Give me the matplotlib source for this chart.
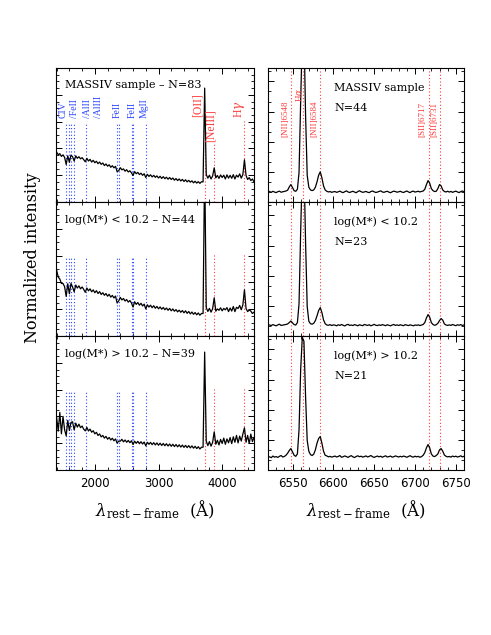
import numpy as np
import matplotlib
matplotlib.use('Agg')
import matplotlib.pyplot as plt
from matplotlib.ticker import MultipleLocator

plt.rcParams['font.family'] = 'DejaVu Sans'
plt.rcParams['mathtext.fontset'] = 'dejavuserif'

# ---- rest-frame UV/optical stacks (left), 25 A sampling
wave_uv = np.arange(1400, 4501, 25)

flux_uv_all = [
    0.372, 0.352, 0.361, 0.340, 0.352, 0.333, 0.280, 0.345, 0.296, 0.350,
    0.338, 0.306, 0.345, 0.326, 0.338, 0.322, 0.331, 0.316, 0.300, 0.326,
    0.306, 0.318, 0.298, 0.311, 0.293, 0.304, 0.286, 0.298, 0.281, 0.291,
    0.272, 0.284, 0.267, 0.278, 0.259, 0.271, 0.255, 0.266, 0.226, 0.234,
    0.256, 0.240, 0.247, 0.230, 0.241, 0.224, 0.233, 0.218, 0.198, 0.227,
    0.211, 0.221, 0.205, 0.215, 0.199, 0.211, 0.183, 0.207, 0.191, 0.203,
    0.187, 0.199, 0.184, 0.195, 0.179, 0.192, 0.176, 0.189, 0.174, 0.185,
    0.170, 0.183, 0.168, 0.179, 0.163, 0.175, 0.160, 0.172, 0.157, 0.169,
    0.153, 0.166, 0.150, 0.162, 0.148, 0.158, 0.143, 0.155, 0.141, 0.152,
    0.139, 0.151, 0.150, 0.850, 0.205, 0.178, 0.200, 0.172, 0.194, 0.255,
    0.180, 0.198, 0.176, 0.202, 0.183, 0.200, 0.172, 0.203, 0.178, 0.199,
    0.177, 0.204, 0.172, 0.200, 0.186, 0.210, 0.178, 0.205, 0.315, 0.198,
    0.168, 0.182, 0.160, 0.172, 0.150,
]

flux_uv_low = [
    0.490, 0.440, 0.425, 0.392, 0.392, 0.368, 0.295, 0.390, 0.315, 0.392,
    0.366, 0.330, 0.380, 0.358, 0.374, 0.352, 0.366, 0.348, 0.326, 0.358,
    0.337, 0.352, 0.330, 0.344, 0.323, 0.338, 0.317, 0.331, 0.310, 0.323,
    0.304, 0.317, 0.297, 0.311, 0.290, 0.303, 0.284, 0.298, 0.246, 0.262,
    0.288, 0.269, 0.280, 0.261, 0.272, 0.253, 0.265, 0.247, 0.216, 0.256,
    0.236, 0.250, 0.230, 0.244, 0.224, 0.238, 0.202, 0.233, 0.216, 0.230,
    0.211, 0.226, 0.207, 0.221, 0.203, 0.217, 0.200, 0.213, 0.196, 0.209,
    0.192, 0.206, 0.188, 0.202, 0.185, 0.197, 0.180, 0.193, 0.177, 0.190,
    0.173, 0.188, 0.169, 0.183, 0.165, 0.179, 0.162, 0.175, 0.158, 0.172,
    0.155, 0.168, 0.168, 1.300, 0.212, 0.183, 0.206, 0.178, 0.203, 0.285,
    0.185, 0.202, 0.192, 0.210, 0.188, 0.206, 0.195, 0.212, 0.182, 0.209,
    0.186, 0.220, 0.182, 0.214, 0.205, 0.228, 0.196, 0.232, 0.345, 0.205,
    0.182, 0.194, 0.186, 0.168, 0.178,
]

flux_uv_high = [
    0.390, 0.290, 0.430, 0.270, 0.400, 0.300, 0.255, 0.370, 0.295, 0.355,
    0.360, 0.300, 0.350, 0.320, 0.342, 0.316, 0.328, 0.305, 0.292, 0.318,
    0.291, 0.305, 0.282, 0.293, 0.270, 0.281, 0.258, 0.269, 0.247, 0.258,
    0.238, 0.251, 0.230, 0.243, 0.224, 0.237, 0.218, 0.232, 0.200, 0.216,
    0.215, 0.229, 0.210, 0.224, 0.207, 0.221, 0.204, 0.218, 0.190, 0.215,
    0.199, 0.214, 0.196, 0.211, 0.194, 0.209, 0.180, 0.207, 0.192, 0.206,
    0.189, 0.204, 0.187, 0.202, 0.185, 0.200, 0.183, 0.198, 0.181, 0.196,
    0.179, 0.194, 0.177, 0.192, 0.175, 0.190, 0.173, 0.188, 0.171, 0.186,
    0.169, 0.184, 0.167, 0.182, 0.165, 0.180, 0.163, 0.177, 0.160, 0.174,
    0.157, 0.170, 0.170, 0.880, 0.215, 0.182, 0.212, 0.178, 0.206, 0.285,
    0.192, 0.222, 0.187, 0.228, 0.198, 0.238, 0.192, 0.232, 0.203, 0.242,
    0.197, 0.248, 0.207, 0.258, 0.202, 0.253, 0.216, 0.268, 0.315, 0.207,
    0.258, 0.197, 0.268, 0.212, 0.243,
]

# ---- H-alpha region stacks (right), 2 A sampling
wave_ha = np.arange(6522, 6761, 2)

flux_ha_all = [
    0.078, 0.072, 0.080, 0.074, 0.070, 0.077, 0.081, 0.073, 0.076, 0.079,
    0.082, 0.088, 0.112, 0.130, 0.108, 0.084, 0.080, 0.095, 0.220, 0.750,
    1.250, 1.300, 0.650, 0.200, 0.110, 0.090, 0.085, 0.090, 0.110, 0.150,
    0.200, 0.225, 0.180, 0.120, 0.090, 0.080, 0.075, 0.078, 0.072, 0.076,
    0.078, 0.072, 0.076, 0.081, 0.074, 0.070, 0.077, 0.083, 0.075, 0.071,
    0.076, 0.080, 0.074, 0.069, 0.078, 0.084, 0.077, 0.072, 0.075, 0.079,
    0.073, 0.070, 0.078, 0.082, 0.076, 0.071, 0.074, 0.079, 0.083, 0.075,
    0.072, 0.077, 0.080, 0.074, 0.069, 0.076, 0.081, 0.078, 0.073, 0.076,
    0.080, 0.074, 0.071, 0.077, 0.082, 0.075, 0.070, 0.078, 0.081, 0.074,
    0.077, 0.080, 0.075, 0.079, 0.082, 0.095, 0.130, 0.160, 0.140, 0.100,
    0.085, 0.078, 0.080, 0.100, 0.130, 0.120, 0.090, 0.078, 0.075, 0.080,
    0.074, 0.079, 0.072, 0.077, 0.081, 0.075, 0.070, 0.078, 0.082, 0.076,
]

flux_ha_low = [
    0.082, 0.078, 0.085, 0.080, 0.076, 0.083, 0.088, 0.079, 0.081, 0.084,
    0.086, 0.090, 0.100, 0.112, 0.098, 0.085, 0.082, 0.100, 0.240, 0.780,
    1.250, 1.300, 0.700, 0.220, 0.110, 0.092, 0.088, 0.095, 0.115, 0.150,
    0.190, 0.212, 0.175, 0.120, 0.092, 0.082, 0.080, 0.085, 0.078, 0.083,
    0.081, 0.076, 0.084, 0.079, 0.086, 0.080, 0.075, 0.083, 0.087, 0.079,
    0.082, 0.078, 0.085, 0.081, 0.076, 0.084, 0.080, 0.077, 0.086, 0.082,
    0.079, 0.084, 0.076, 0.081, 0.087, 0.080, 0.078, 0.083, 0.079, 0.085,
    0.081, 0.077, 0.084, 0.080, 0.076, 0.082, 0.086, 0.079, 0.083, 0.078,
    0.084, 0.080, 0.077, 0.085, 0.081, 0.078, 0.083, 0.080, 0.076, 0.082,
    0.080, 0.083, 0.078, 0.082, 0.086, 0.100, 0.135, 0.160, 0.140, 0.100,
    0.086, 0.080, 0.084, 0.095, 0.115, 0.130, 0.118, 0.090, 0.082, 0.079,
    0.083, 0.079, 0.086, 0.081, 0.077, 0.084, 0.080, 0.085, 0.079, 0.082,
]

flux_ha_high = [
    0.098, 0.092, 0.104, 0.096, 0.100, 0.094, 0.102, 0.108, 0.097, 0.101,
    0.110, 0.125, 0.145, 0.160, 0.135, 0.110, 0.102, 0.120, 0.300, 0.750,
    0.990, 0.960, 0.550, 0.220, 0.140, 0.115, 0.108, 0.118, 0.150, 0.200,
    0.235, 0.250, 0.200, 0.140, 0.110, 0.105, 0.098, 0.102, 0.096, 0.100,
    0.104, 0.097, 0.101, 0.108, 0.095, 0.099, 0.105, 0.100, 0.094, 0.102,
    0.107, 0.098, 0.093, 0.101, 0.106, 0.099, 0.103, 0.096, 0.100, 0.105,
    0.097, 0.102, 0.108, 0.099, 0.094, 0.100, 0.104, 0.098, 0.103, 0.095,
    0.101, 0.106, 0.097, 0.100, 0.104, 0.096, 0.099, 0.105, 0.101, 0.097,
    0.102, 0.098, 0.104, 0.100, 0.095, 0.101, 0.107, 0.099, 0.096, 0.103,
    0.098, 0.102, 0.095, 0.100, 0.110, 0.130, 0.165, 0.190, 0.165, 0.120,
    0.104, 0.100, 0.108, 0.120, 0.150, 0.160, 0.140, 0.112, 0.102, 0.098,
    0.101, 0.096, 0.104, 0.099, 0.103, 0.097, 0.100, 0.106, 0.098, 0.102,
]

left_titles = ['MASSIV sample – N=83', 'log(M*) < 10.2 – N=44', 'log(M*) > 10.2 – N=39']
right_titles = ['MASSIV sample', 'log(M*) < 10.2', 'log(M*) > 10.2']
right_counts = ['N=44', 'N=23', 'N=21']

# absorption lines (blue) and emission lines (red)
abs_waves = [1549, 1590, 1622, 1670, 1860, 2344, 2374, 2586, 2600, 2800]
abs_labels = ['CIV', '/FeII', '/AlII', '/AlIII', 'FeII', 'FeII', 'MgII']
abs_label_x = [1500, 1673, 1892, 2065, 2348, 2583, 2772]
em_waves_uv = [3727, 3869, 4340]
em_labels_uv = ['[OII]', '[NeIII]', r'H$\gamma$']
em_label_x = [3620, 3824, 4280]
em_label_y = [0.635, 0.45, 0.63]
em_waves_ha = [6548, 6563, 6584, 6717, 6731]
em_labels_ha = ['[NII]6548', r'H$\alpha$', '[NII]6584', '[SII]6717', '[SII]6731']
em_label_xha = [6540.7, 6557.8, 6577, 6709, 6723.7]
em_label_yha = [0.485, 0.745, 0.485, 0.485, 0.485]

blue = '#2a45ff'
red = '#ff3b3b'
serif = 'DejaVu Serif'
dots = (0, (1, 2))

fig = plt.figure(figsize=(4.91, 6.35), dpi=100)

uv_fluxes = [flux_uv_all, flux_uv_low, flux_uv_high]
ha_fluxes = [flux_ha_all, flux_ha_low, flux_ha_high]

h = 134 / 635
for i in range(3):
    y0 = 1 - (68 + 134 * (i + 1)) / 635
    axl = fig.add_axes([56 / 491, y0, 198 / 491, h])
    axr = fig.add_axes([268 / 491, y0, 196 / 491, h])

    # left panel
    for w in abs_waves:
        axl.plot([w, w], [0, 0.6], ls=dots, color=blue, lw=0.8)
    for j, w in enumerate(em_waves_uv):
        top = 0.45 if (i == 0 and j == 1) else 0.62
        axl.plot([w, w], [0, top], ls=dots, color=red, lw=0.8)
    axl.plot(wave_uv, uv_fluxes[i], color='k', lw=0.9)
    axl.set_xlim(1390, 4500)
    axl.set_ylim(0, 1)
    axl.text(0.045, 0.87, left_titles[i], transform=axl.transAxes,
             family=serif, fontsize=8, va='center', ha='left')

    # right panel
    for w in em_waves_ha:
        axr.axvline(w, ls=dots, color=red, lw=0.8)
    axr.plot(wave_ha, ha_fluxes[i], color='k', lw=0.9)
    axr.set_xlim(6520, 6760)
    axr.set_ylim(0, 1)
    axr.text(0.337, 0.85, right_titles[i], transform=axr.transAxes,
             family=serif, fontsize=8, va='center', ha='left')
    axr.text(0.337, 0.70, right_counts[i], transform=axr.transAxes,
             family=serif, fontsize=8, va='center', ha='left')

    if i == 0:
        for lab, x in zip(abs_labels, abs_label_x):
            axl.text(x, 0.63, lab, rotation=90, ha='center', va='bottom',
                     color=blue, family='Liberation Serif', fontsize=7)
        for lab, x, y in zip(em_labels_uv, em_label_x, em_label_y):
            axl.text(x, y, lab, rotation=90, ha='center', va='bottom',
                     color=red, family='Liberation Serif', fontsize=8.5)
        for lab, x, y in zip(em_labels_ha, em_label_xha, em_label_yha):
            axr.text(x, y, lab, rotation=90, ha='center', va='bottom',
                     color=red, family='Liberation Serif', fontsize=6.5)

    axl.xaxis.set_major_locator(MultipleLocator(1000))
    axl.xaxis.set_minor_locator(MultipleLocator(200))
    axl.yaxis.set_major_locator(MultipleLocator(0.2))
    axl.yaxis.set_minor_locator(MultipleLocator(0.05))
    axr.xaxis.set_major_locator(MultipleLocator(50))
    axr.xaxis.set_minor_locator(MultipleLocator(10))
    axr.yaxis.set_major_locator(MultipleLocator(0.225))
    axr.yaxis.set_minor_locator(MultipleLocator(0.075))

    for ax in (axl, axr):
        ax.tick_params(which='both', direction='in', top=True, right=True,
                       labelleft=False, labelbottom=(i == 2), labelsize=8.5, pad=5)
        ax.tick_params(which='major', length=4.5, width=0.7)
        ax.tick_params(which='minor', length=2.5, width=0.6)
        for s in ax.spines.values():
            s.set_linewidth(0.8)

    if i == 2:
        axl.set_xlabel(r'$\lambda_{\rm rest-frame}$  (Å)', family=serif, fontsize=12, labelpad=6)
        axr.set_xlabel(r'$\lambda_{\rm rest-frame}$  (Å)', family=serif, fontsize=12, labelpad=6)

fig.text(33 / 491, 1 - 258 / 635, 'Normalized intensity', rotation=90,
         family=serif, fontsize=11.5, ha='center', va='center')

fig.savefig('out.png', dpi=100)
